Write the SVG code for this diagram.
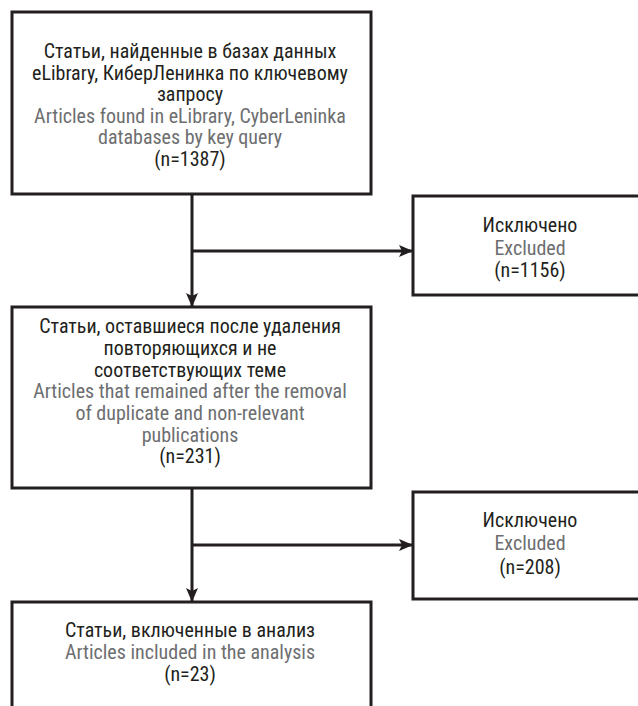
<svg xmlns="http://www.w3.org/2000/svg" width="638" height="706" viewBox="0 0 638 706">
<style>
.box{fill:#fff;stroke:#231f20;stroke-width:3}
.ln{fill:none;stroke:#231f20;stroke-width:3}
text{font-family:"Liberation Sans Narrow","Roboto Condensed","Liberation Sans",sans-serif;font-size:20px;font-weight:400;text-anchor:middle}
.ru{fill:#231f20}
.en{fill:#6d6e70}
</style>
<defs>
<marker id="ah" markerUnits="userSpaceOnUse" markerWidth="14" markerHeight="12" refX="13" refY="6" orient="auto" viewBox="0 0 14 12">
<path d="M0,0 L14,6 L0,12 L3,6 Z" fill="#231f20"/>
</marker>
</defs>
<rect width="638" height="706" fill="#fff"/>
<g id="connectors">
<path class="ln" d="M192,194 V306" marker-end="url(#ah)"/>
<path class="ln" d="M192,251 H412" marker-end="url(#ah)"/>
<path class="ln" d="M192,488 V601" marker-end="url(#ah)"/>
<path class="ln" d="M192,545 H412" marker-end="url(#ah)"/>
</g>
<g id="n1">
<rect class="box" x="12" y="12" width="359" height="182"/>
<text x="190" y="58" class="ru">Статьи, найденные в базах данных</text>
<text x="190" y="79.5" class="ru">eLibrary, КиберЛенинка по ключевому</text>
<text x="190" y="101" class="ru">запросу</text>
<text x="190" y="122.5" class="en">Articles found in eLibrary, CyberLeninka</text>
<text x="190" y="144" class="en">databases by key query</text>
<text x="190" y="165.5" class="ru">(n=1387)</text>
</g>
<g id="n2">
<rect class="box" x="413" y="196" width="240" height="99"/>
<text x="530" y="232" class="ru">Исключено</text>
<text x="530" y="255" class="en">Excluded</text>
<text x="530" y="277" class="ru">(n=1156)</text>
</g>
<g id="n3">
<rect class="box" x="12" y="307" width="359" height="181"/>
<text x="190" y="333" class="ru">Статьи, оставшиеся после удаления</text>
<text x="190" y="355" class="ru">повторяющихся и не</text>
<text x="190" y="376.5" class="ru">соответствующих теме</text>
<text x="190" y="398" class="en">Articles that remained after the removal</text>
<text x="190" y="420" class="en">of duplicate and non-relevant</text>
<text x="190" y="441.5" class="en">publications</text>
<text x="190" y="463" class="ru">(n=231)</text>
</g>
<g id="n4">
<rect class="box" x="413" y="492" width="240" height="107"/>
<text x="530" y="527" class="ru">Исключено</text>
<text x="530" y="550" class="en">Excluded</text>
<text x="530" y="574" class="ru">(n=208)</text>
</g>
<g id="n5">
<rect class="box" x="12" y="602" width="359" height="120"/>
<text x="190" y="637" class="ru">Статьи, включенные в анализ</text>
<text x="190" y="659" class="en">Articles included in the analysis</text>
<text x="190" y="681" class="ru">(n=23)</text>
</g>
</svg>
